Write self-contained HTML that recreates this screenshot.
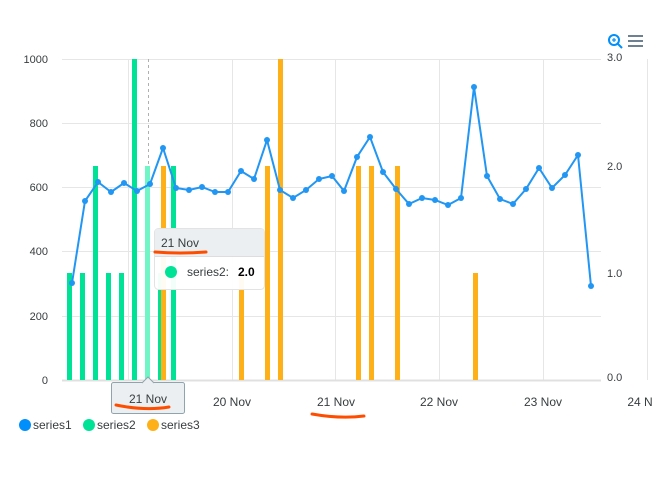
<!DOCTYPE html>
<html><head><style>
body{margin:0;background:#fff;width:669px;height:474px;overflow:hidden;font-family:"Liberation Sans",sans-serif}
</style></head><body>
<svg width="669" height="474" xmlns="http://www.w3.org/2000/svg" font-family="Liberation Sans, sans-serif">
<g stroke="#e6e6e6" stroke-width="1">
<line x1="62" y1="59.5" x2="601" y2="59.5"/><line x1="62" y1="123.5" x2="601" y2="123.5"/>
<line x1="62" y1="187.5" x2="601" y2="187.5"/><line x1="62" y1="251.5" x2="601" y2="251.5"/>
<line x1="62" y1="316.5" x2="601" y2="316.5"/>
<line x1="128.5" y1="59" x2="128.5" y2="380"/><line x1="232.5" y1="59" x2="232.5" y2="380"/>
<line x1="335.5" y1="59" x2="335.5" y2="380"/><line x1="439.5" y1="59" x2="439.5" y2="380"/>
<line x1="543.5" y1="59" x2="543.5" y2="380"/><line x1="647.5" y1="59" x2="647.5" y2="380"/>
</g>
<line x1="62" y1="380.5" x2="601" y2="380.5" stroke="#e0e0e0" stroke-width="2"/>
<line x1="148.5" y1="59" x2="148.5" y2="380" stroke="#b0b0b0" stroke-dasharray="3,3"/>
<g fill="#00e396">
<rect x="67" y="273" width="5" height="107"/><rect x="80" y="273" width="5" height="107"/>
<rect x="93" y="166" width="5" height="214"/><rect x="106" y="273" width="5" height="107"/>
<rect x="119" y="273" width="5" height="107"/><rect x="132" y="59" width="5" height="321"/>
<rect x="158" y="273" width="5" height="107"/><rect x="171" y="166" width="5" height="214"/>
</g>
<rect x="145" y="166" width="5" height="214" fill="#6ff5c6"/>
<g fill="#feb019">
<rect x="161" y="166" width="5" height="214"/><rect x="239" y="273" width="5" height="107"/>
<rect x="265" y="166" width="5" height="214"/><rect x="278" y="59" width="5" height="321"/>
<rect x="356" y="166" width="5" height="214"/><rect x="369" y="166" width="5" height="214"/>
<rect x="395" y="166" width="5" height="214"/><rect x="473" y="273" width="5" height="107"/>
</g>
<polyline fill="none" stroke="#2196f3" stroke-width="2" points="72,283 85,201 98,182 111,192 124,183 137,191 150,184 163,148 176,188 189,190 202,187 215,192 228,192 241,171 254,179 267,140 280,190 293,198 306,190 319,179 332,176 344,191 357,157 370,137 383,172 396,189 409,204 422,198 435,200 448,205 461,198 474,87 487,176 500,199 513,204 526,189 539,168 552,188 565,175 578,155 591,286"/>
<g fill="#2196f3">
<circle cx="72" cy="283" r="3"/><circle cx="85" cy="201" r="3"/><circle cx="98" cy="182" r="3"/><circle cx="111" cy="192" r="3"/><circle cx="124" cy="183" r="3"/><circle cx="137" cy="191" r="3"/><circle cx="150" cy="184" r="3"/><circle cx="163" cy="148" r="3"/><circle cx="176" cy="188" r="3"/><circle cx="189" cy="190" r="3"/><circle cx="202" cy="187" r="3"/><circle cx="215" cy="192" r="3"/><circle cx="228" cy="192" r="3"/><circle cx="241" cy="171" r="3"/><circle cx="254" cy="179" r="3"/><circle cx="267" cy="140" r="3"/><circle cx="280" cy="190" r="3"/><circle cx="293" cy="198" r="3"/><circle cx="306" cy="190" r="3"/><circle cx="319" cy="179" r="3"/><circle cx="332" cy="176" r="3"/><circle cx="344" cy="191" r="3"/><circle cx="357" cy="157" r="3"/><circle cx="370" cy="137" r="3"/><circle cx="383" cy="172" r="3"/><circle cx="396" cy="189" r="3"/><circle cx="409" cy="204" r="3"/><circle cx="422" cy="198" r="3"/><circle cx="435" cy="200" r="3"/><circle cx="448" cy="205" r="3"/><circle cx="461" cy="198" r="3"/><circle cx="474" cy="87" r="3"/><circle cx="487" cy="176" r="3"/><circle cx="500" cy="199" r="3"/><circle cx="513" cy="204" r="3"/><circle cx="526" cy="189" r="3"/><circle cx="539" cy="168" r="3"/><circle cx="552" cy="188" r="3"/><circle cx="565" cy="175" r="3"/><circle cx="578" cy="155" r="3"/><circle cx="591" cy="286" r="3"/>
</g>
<g font-size="11" fill="#373d3f" text-anchor="end">
<text x="48" y="63">1000</text><text x="48" y="127">800</text><text x="48" y="191">600</text>
<text x="48" y="255">400</text><text x="48" y="320">200</text><text x="48" y="384">0</text>
</g>
<g font-size="11" fill="#373d3f">
<text x="607" y="61">3.0</text><text x="607" y="170">2.0</text><text x="607" y="277">1.0</text><text x="607" y="381">0.0</text>
</g>
<g font-size="12" fill="#373d3f" text-anchor="middle">
<text x="232" y="406">20 Nov</text><text x="336" y="406">21 Nov</text><text x="439" y="406">22 Nov</text><text x="543" y="406">23 Nov</text><text x="640" y="406">24 N</text>
</g>
<path d="M312,414 Q340,419 364,416" stroke="#ff4d00" stroke-width="3" fill="none" stroke-linecap="round"/>
<rect x="111.5" y="382.5" width="73" height="31" rx="2" fill="#eceff1" stroke="#90a4ae"/>
<path d="M142,383 L148,377 L154,383" fill="#eceff1" stroke="#90a4ae"/>
<text x="148" y="403" font-size="12" fill="#373d3f" text-anchor="middle">21 Nov</text>
<path d="M116,405 Q145,411 169,407" stroke="#ff4d00" stroke-width="3" fill="none" stroke-linecap="round"/>
<rect x="154.5" y="228.5" width="110" height="61" rx="4" fill="rgba(255,255,255,0.95)" stroke="#e3e3e3"/>
<path d="M155,256 L155,232 Q155,229 158,229 L261,229 Q264,229 264,232 L264,256 Z" fill="#eceff1"/>
<line x1="155" y1="256.5" x2="264" y2="256.5" stroke="#ddd"/>
<text x="161" y="247" font-size="12" fill="#373d3f">21 Nov</text>
<path d="M155,252 Q180,254 206,252" stroke="#ff4d00" stroke-width="3" fill="none" stroke-linecap="round"/>
<circle cx="171" cy="272" r="6" fill="#00e396"/>
<text x="187" y="276" font-size="12" fill="#373d3f">series2:</text>
<text x="238" y="276" font-size="12" font-weight="bold" fill="#000">2.0</text>
<g font-size="12" fill="#373d3f">
<circle cx="25" cy="425" r="6" fill="#008ffb"/><text x="33" y="429">series1</text>
<circle cx="89" cy="425" r="6" fill="#00e396"/><text x="97" y="429">series2</text>
<circle cx="153" cy="425" r="6" fill="#feb019"/><text x="161" y="429">series3</text>
</g>
<circle cx="614" cy="40" r="5" fill="none" stroke="#008ffb" stroke-width="2"/>
<line x1="618" y1="44" x2="622" y2="48" stroke="#008ffb" stroke-width="2"/>
<line x1="612" y1="40" x2="616" y2="40" stroke="#008ffb" stroke-width="1.2"/><line x1="614" y1="38" x2="614" y2="42" stroke="#008ffb" stroke-width="1.2"/>
<g stroke="#6e8192" stroke-width="2"><line x1="628" y1="36" x2="643" y2="36"/><line x1="628" y1="41" x2="643" y2="41"/><line x1="628" y1="46" x2="643" y2="46"/></g>
</svg>
</body></html>
